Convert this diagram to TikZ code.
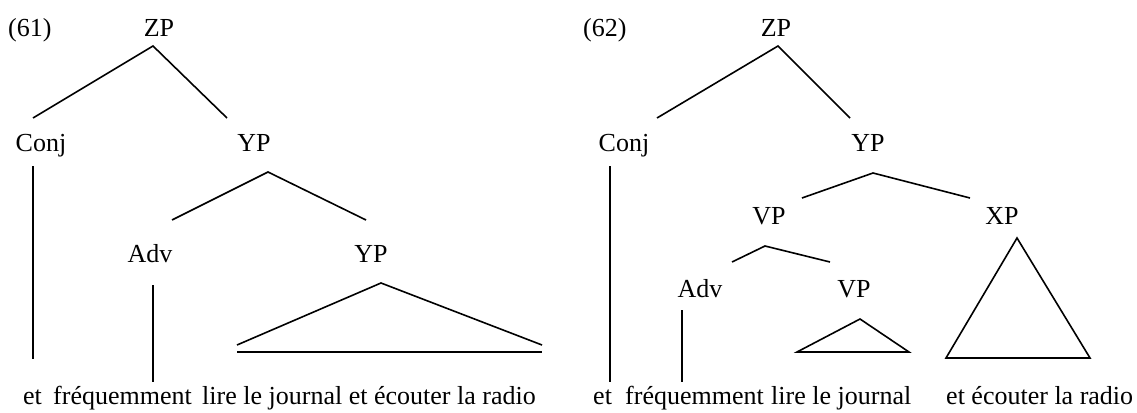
\documentclass[tikz,border=0pt]{standalone}
\usepackage{fontspec}
\setmainfont{Liberation Serif}
\begin{document}
\begin{tikzpicture}[x=1pt,y=-1pt,
  lab/.style={inner sep=0pt,anchor=base,font=\fontsize{26}{30}\selectfont},
  word/.style={inner sep=0pt,anchor=base west,font=\fontsize{26}{30}\selectfont},
  branch/.style={line width=1.6pt,line cap=butt},
  roof/.style={line width=1.6pt,line join=miter}]
\useasboundingbox (0,0) rectangle (1137,412);
% ---------- (61) ----------
\node[word] (n61) at (8,37) {(61)};
\node[lab] (zpA) at (159,37) {ZP};
\node[lab] (conjA) at (41,151) {Conj};
\node[lab] (ypA) at (254,151) {YP};
\node[lab] (advA) at (150,262) {Adv};
\node[lab] (ypAb) at (371,262) {YP};
\node[word] (etA) at (23,404) {et};
\node[word] (freqA) at (53,404) {fréquemment};
\node[word] (lireA) at (202,404) {lire le journal et écouter la radio};
\coordinate (zpAt) at (153,46);
\coordinate (zpAl) at (33,118);
\coordinate (zpAr) at (227,118);
\coordinate (conjAt) at (33,166);
\coordinate (conjAb) at (33,359);
\coordinate (ypAt) at (268,172);
\coordinate (ypAl) at (172,220);
\coordinate (ypAr) at (366,220);
\coordinate (advAt) at (153,285);
\coordinate (advAb) at (153,382);
\coordinate (rfAt) at (381,283);
\coordinate (rfAl) at (237,345);
\coordinate (rfAr) at (542,345);
\coordinate (rfBl) at (237,352);
\coordinate (rfBr) at (542,352);
\draw[branch] (zpAl) -- (zpAt) -- (zpAr);
\draw[branch] (conjAt) -- (conjAb);
\draw[branch] (ypAl) -- (ypAt) -- (ypAr);
\draw[branch] (advAt) -- (advAb);
\draw[branch] (rfAl) -- (rfAt) -- (rfAr);
\draw[branch] (rfBl) -- (rfBr);
% ---------- (62) ----------
\node[word] (n62) at (583,37) {(62)};
\node[lab] (zpB) at (776,37) {ZP};
\node[lab] (conjB) at (624,151) {Conj};
\node[lab] (ypB) at (868,151) {YP};
\node[lab] (vpB) at (769,224) {VP};
\node[lab] (xpB) at (1002,224) {XP};
\node[lab] (advB) at (700,297) {Adv};
\node[lab] (vpBb) at (854,297) {VP};
\node[word] (etB) at (593,404) {et};
\node[word] (freqB) at (625,404) {fréquemment};
\node[word] (lireB) at (771,404) {lire le journal};
\node[word] (ecB) at (946,404) {et écouter la radio};
\coordinate (zpBt) at (778,46);
\coordinate (zpBl) at (657,118);
\coordinate (zpBr) at (850,118);
\coordinate (conjBt) at (610,166);
\coordinate (conjBb) at (610,382);
\coordinate (ypBt) at (873,173);
\coordinate (ypBl) at (802,198);
\coordinate (ypBr) at (970,198);
\coordinate (vpBt) at (765,246);
\coordinate (vpBl) at (732,262);
\coordinate (vpBr) at (830,262);
\coordinate (advBt) at (682,310);
\coordinate (advBb) at (682,382);
\coordinate (tsT) at (860,319);
\coordinate (tsL) at (797,352);
\coordinate (tsR) at (909,352);
\coordinate (tlT) at (1017,238);
\coordinate (tlL) at (946,358);
\coordinate (tlR) at (1090,358);
\draw[branch] (zpBl) -- (zpBt) -- (zpBr);
\draw[branch] (conjBt) -- (conjBb);
\draw[branch] (ypBl) -- (ypBt) -- (ypBr);
\draw[branch] (vpBl) -- (vpBt) -- (vpBr);
\draw[branch] (advBt) -- (advBb);
\draw[roof] (tsT) -- (tsL) -- (tsR) -- cycle;
\draw[roof] (tlT) -- (tlL) -- (tlR) -- cycle;
\end{tikzpicture}
\end{document}
